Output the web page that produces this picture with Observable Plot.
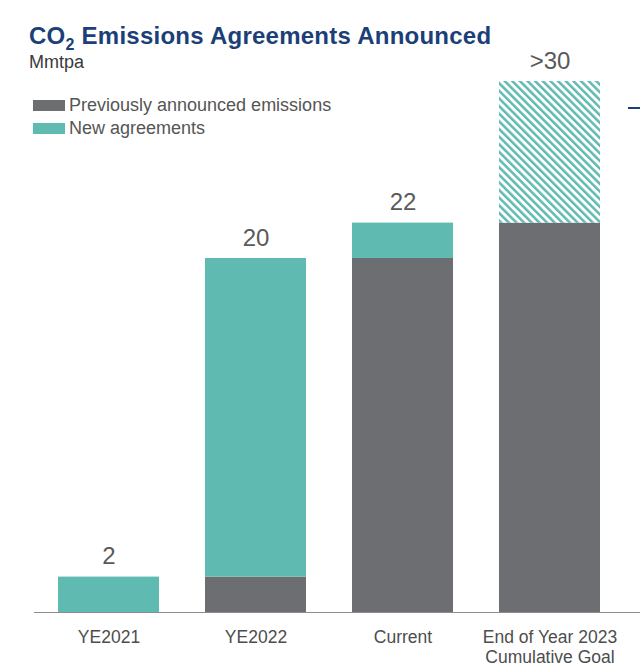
<!DOCTYPE html>
<html>
<head>
<meta charset="utf-8">
<script src="https://cdn.jsdelivr.net/npm/d3@7"></script>
<script src="https://cdn.jsdelivr.net/npm/@observablehq/plot@0.6"></script>
<style>
  html, body { margin: 0; padding: 0; background: #fff; }
  body { width: 640px; height: 670px; overflow: hidden; font-family: "Liberation Sans", Arial, sans-serif; }
  #wrap { position: relative; width: 640px; height: 670px; }
  #head { height: 44px; position: relative; }
  #title { position: absolute; left: 29px; top: 22px; margin: 0; font-size: 24px; font-weight: bold; color: #1c3f78; letter-spacing: 0.25px; white-space: nowrap; z-index: 2; }
  #title sub { font-size: 16px; vertical-align: -6px; line-height: 0; }
  #subtitle { position: absolute; left: 29px; top: 52px; font-size: 18px; color: #3a3a3a; }
  #legend { position: absolute; left: 33px; top: 94px; font-size: 18px; color: #555; line-height: 23px; }
  #legend .item { display: flex; align-items: center; white-space: nowrap; }
  #legend .sw { width: 32px; height: 11px; margin-right: 4px; }
  #dash { position: absolute; left: 628px; top: 107px; width: 12px; height: 2px; background: #1c3f78; }
</style>
</head>
<body>
<div id="wrap">
  <div id="head"><div id="title">CO<sub>2</sub> Emissions Agreements Announced</div></div>
  <div id="chart"></div>
  <div id="subtitle">Mmtpa</div>
  <div id="legend"></div>
  <div id="dash"></div>
</div>
<script>
const categories = ["YE2021", "YE2022", "Current", "End of Year 2023\nCumulative Goal"];
const previousEmissions = [0, 2, 20, 22];
const newAgreements = [2, 18, 2, 0];
const goalRemaining = [0, 0, 0, 8];
const valueLabels = ["2", "20", "22", ">30"];
const seriesNames = ["Previously announced emissions", "New agreements"];

const GRAY = "#6d6e71";
const TEAL = "#5fbab1";

const data = categories.map((c, i) => ({
  cat: c,
  prev: previousEmissions[i],
  nw: newAgreements[i],
  goal: goalRemaining[i],
  label: valueLabels[i]
}));

const chart = Plot.plot({
  width: 640,
  height: 626,
  marginLeft: 34,
  marginRight: 0,
  marginTop: 37,
  marginBottom: 58,
  style: { fontFamily: "Liberation Sans, Arial, sans-serif", background: "transparent" },
  x: { domain: categories, range: [34, 624], paddingInner: 0.31, paddingOuter: 0.155, label: null },
  y: { domain: [0, 30], axis: null },
  marks: [
    Plot.barY(data.filter(d => d.prev > 0), { x: "cat", y1: 0, y2: "prev", fill: GRAY, inset: 0 }),
    Plot.barY(data.filter(d => d.nw > 0), { x: "cat", y1: "prev", y2: d => d.prev + d.nw, fill: TEAL, inset: 0 }),
    Plot.barY(data.filter(d => d.goal > 0), { x: "cat", y1: d => d.prev + d.nw, y2: d => d.prev + d.nw + d.goal, fill: "url(#hatch)", inset: 0 }),
    Plot.ruleY([0], { stroke: "#8c8c8c", strokeWidth: 1.2 }),
    Plot.text(data, { x: "cat", y: d => d.prev + d.nw + d.goal, text: "label", lineAnchor: "bottom", dy: -13, fontSize: 24, fill: "#595959" }),
    Plot.axisX({ tickSize: 0, tickPadding: 16, fontSize: 17.5, fill: "#4d4d4d", lineHeight: 1.14 })
  ]
});

const ns = "http://www.w3.org/2000/svg";
const defs = document.createElementNS(ns, "defs");
defs.innerHTML = `<pattern id="hatch" patternUnits="userSpaceOnUse" width="5.4" height="5.4" patternTransform="rotate(-45)">
  <rect width="5.4" height="5.4" fill="#fff"></rect>
  <rect x="0" y="0" width="2.5" height="5.4" fill="${TEAL}"></rect>
</pattern>`;
chart.insertBefore(defs, chart.firstChild);
document.getElementById("chart").appendChild(chart);

const legend = document.getElementById("legend");
[GRAY, TEAL].forEach((c, i) => {
  const it = document.createElement("div");
  it.className = "item";
  it.innerHTML = `<span class="sw" style="background:${c}"></span><span>${seriesNames[i]}</span>`;
  legend.appendChild(it);
});
</script>
</body>
</html>
